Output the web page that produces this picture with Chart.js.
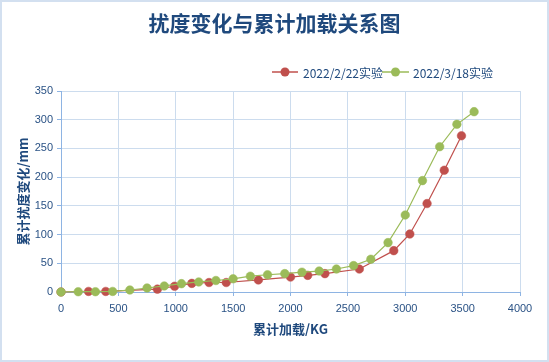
<!DOCTYPE html>
<html><head><meta charset="utf-8">
<script src="https://cdn.jsdelivr.net/npm/chart.js@4"></script>
<style>html,body{margin:0;padding:0;background:#fff}#wrap{position:relative;width:549px;height:362px}</style>
</head><body><div id="wrap"><canvas id="c" width="549" height="362"></canvas></div>
<script>
const titleText = '扰度变化与累计加载关系图';
const xTitle = '累计加载/KG';
const yTitle = '累计扰度变化/mm';
const seriesNames = ['2022/2/22实验', '2022/3/18实验'];
const seriesColors = ['#C0504D', '#9BBB59'];
const loadA = [0, 240, 390, 840, 990, 1140, 1290, 1440, 1720, 2000, 2150, 2300, 2600, 2900, 3040, 3190, 3340, 3490];
const defA  = [0, 1, 1, 5, 10, 15, 16.5, 16.5, 21, 26, 29, 32, 40, 72, 101, 154, 212, 272];
const loadB = [0, 150, 300, 450, 600, 750, 900, 1050, 1200, 1350, 1500, 1650, 1800, 1950, 2100, 2250, 2400, 2550, 2700, 2850, 3000, 3150, 3300, 3450, 3600];
const defB  = [0, 0.5, 0.5, 1, 3.5, 7, 10.5, 14.5, 17.5, 20, 23, 27.5, 30, 32, 34.5, 36.5, 40, 46, 57, 86, 134, 194, 253, 292, 314];
const xTicks = [0, 500, 1000, 1500, 2000, 2500, 3000, 3500, 4000];
const yTicks = [0, 50, 100, 150, 200, 250, 300, 350];

const TXT = '#1F497D';
const TICK = '#2A5285';
const GRID = '#CCDCEE';
const AXIS = '#8EB4E3';
const CJK = '"Noto Sans CJK SC", "Liberation Sans", sans-serif';

const decor = {
  id: 'decor',
  beforeDraw(chart) {
    const ctx = chart.ctx;
    ctx.save();
    ctx.fillStyle = '#fff';
    ctx.fillRect(0, 0, chart.width, chart.height);
    ctx.restore();
  },
  afterDraw(chart) {
    const ctx = chart.ctx;
    ctx.save();
    ctx.strokeStyle = '#D3E0F0';
    ctx.lineWidth = 2;
    ctx.strokeRect(1, 1, chart.width - 2, chart.height - 2);
    ctx.fillStyle = TXT;
    ctx.font = 'bold 21px ' + CJK;
    ctx.textAlign = 'center';
    ctx.textBaseline = 'middle';
    ctx.fillText(titleText, chart.width / 2, 23);
    const items = [{x0: 272, x1: 298, tx: 303}, {x0: 382, x1: 409, tx: 413}];
    const ly = 72;
    ctx.font = '12px ' + CJK;
    ctx.textAlign = 'left';
    items.forEach((it, i) => {
      const ds = chart.data.datasets[i];
      ctx.strokeStyle = ds.borderColor;
      ctx.lineWidth = 1.5;
      ctx.beginPath(); ctx.moveTo(it.x0, ly); ctx.lineTo(it.x1, ly); ctx.stroke();
      ctx.fillStyle = ds.pointBackgroundColor;
      ctx.beginPath(); ctx.arc((it.x0 + it.x1) / 2, ly, 4.5, 0, Math.PI * 2); ctx.fill();
      ctx.fillStyle = TXT;
      ctx.fillText(ds.label, it.tx, ly + 1);
    });
    ctx.restore();
  }
};

function pts(xs, ys) { return xs.map((x, i) => ({x: x, y: ys[i]})); }

new Chart(document.getElementById('c'), {
  type: 'line',
  data: {
    datasets: [
      {label: seriesNames[0], data: pts(loadA, defA), borderColor: seriesColors[0], backgroundColor: seriesColors[0],
       pointBackgroundColor: seriesColors[0], pointBorderColor: seriesColors[0], pointRadius: 4.3, pointBorderWidth: 0.5,
       borderWidth: 1.2, tension: 0, clip: false, order: 1},
      {label: seriesNames[1], data: pts(loadB, defB), borderColor: seriesColors[1], backgroundColor: seriesColors[1],
       pointBackgroundColor: seriesColors[1], pointBorderColor: seriesColors[1], pointRadius: 4.3, pointBorderWidth: 0.5,
       borderWidth: 1.2, tension: 0, clip: false, order: 0}
    ]
  },
  options: {
    responsive: false,
    animation: false,
    events: [],
    layout: {padding: {top: 91, right: 29, left: 0, bottom: 0}},
    plugins: {legend: {display: false}, title: {display: false}, tooltip: {enabled: false}},
    scales: {
      x: {
        type: 'linear', min: 0, max: 4000,
        afterBuildTicks: s => { s.ticks = xTicks.map(v => ({value: v})); },
        afterFit: s => { s.height = 70; },
        grid: {color: GRID, lineWidth: 1, tickLength: 4, tickColor: AXIS},
        border: {color: AXIS, width: 1},
        ticks: {color: TICK, font: {family: '"Liberation Sans", sans-serif', size: 11}, padding: 6, maxRotation: 0, autoSkip: false,
                callback: v => String(v)},
        title: {display: true, text: xTitle, color: TXT, font: {family: CJK, size: 13, weight: 'bold'}, padding: {top: 0, bottom: 25}}
      },
      y: {
        type: 'linear', min: 0, max: 350,
        afterBuildTicks: s => { s.ticks = yTicks.map(v => ({value: v})); },
        afterFit: s => { s.width = 61; },
        grid: {color: GRID, lineWidth: 1, tickLength: 4, tickColor: AXIS},
        border: {color: AXIS, width: 1},
        ticks: {color: TICK, font: {family: '"Liberation Sans", sans-serif', size: 11}, padding: 4, autoSkip: false,
                callback: v => String(v)},
        title: {display: true, text: yTitle, color: TXT, font: {family: CJK, size: 13, weight: 'bold'}, padding: {top: 15, bottom: 0}}
      }
    }
  },
  plugins: [decor]
});
</script>
</body></html>
